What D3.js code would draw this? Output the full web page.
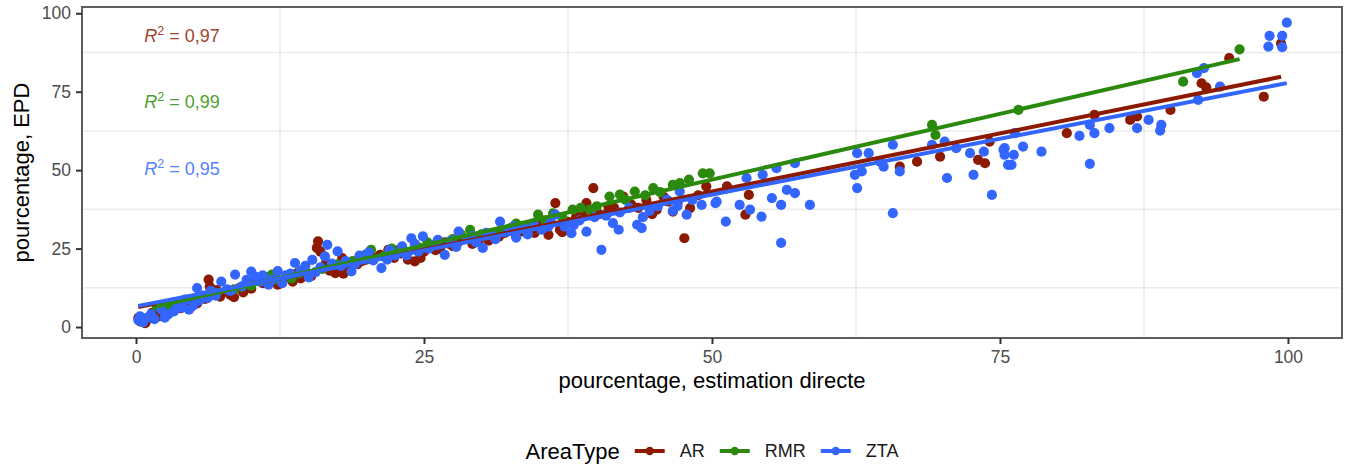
<!DOCTYPE html>
<html lang="fr">
<head>
<meta charset="utf-8">
<title>EPD vs estimation directe</title>
<script src="https://cdn.jsdelivr.net/npm/d3@7"></script>
<style>
  body { margin: 0; background: #fff; }
  svg { display: block; font-family: "Liberation Sans", Arial, Helvetica, sans-serif; }
</style>
</head>
<body>
<svg id="chart" width="1346" height="468"></svg>
<script>
// values: [estimation directe, EPD]
var areaTypes = ["AR", "RMR", "ZTA"];

var arPoints = [
  [0.2,2.9],[0.35,1.8],[0.8,1.2],[1.0,2.5],[1.4,4.5],[2.0,3.5],[2.3,4.2],[2.6,5.0],[3.0,5.5],[3.4,6.6],
  [3.9,6.0],[4.5,7.2],[4.8,6.5],[5.0,8.0],[5.3,7.5],[5.6,9.5],[6.0,9.0],[6.3,15.1],[6.4,12.9],[6.8,10.5],
  [7.0,11.8],[7.3,9.7],[7.8,11.2],[8.2,10.2],[8.5,9.5],[9.0,12.5],[9.3,11.0],[9.6,13.5],[10.0,12.2],[10.4,14.8],
  [11.0,14.0],[11.2,15.5],[12.0,16.0],[12.3,13.5],[12.6,14.0],[13.2,15.8],[13.6,14.5],[14.0,17.2],[14.3,15.5],[14.6,18.0],
  [15.2,16.2],[15.7,25.2],[15.8,27.3],[16.0,24.0],[16.5,20.5],[16.8,18.0],[17.3,17.2],[17.9,22.0],[18.0,17.0],[18.5,19.5],
  [19.2,20.0],[19.6,21.0],[20.0,21.5],[20.6,22.2],[21.2,23.0],[21.9,24.6],[22.4,22.0],[22.8,24.5],[23.0,23.5],[23.6,21.5],
  [24.2,20.9],[24.7,22.0],[25.0,24.0],[25.4,26.2],[26.0,24.5],[26.4,25.0],[26.8,27.0],[27.2,26.5],[27.5,25.8],[28.0,27.2],
  [28.4,28.0],[29.2,26.5],[29.8,28.0],[30.0,28.8],[30.6,27.5],[31.0,29.5],[31.5,28.8],[32.0,30.0],[33.0,29.0],[33.5,30.5],
  [34.0,31.5],[34.6,30.0],[35.0,32.5],[35.8,29.4],[36.4,39.5],[36.8,31.0],[37.0,30.2],[37.5,33.5],[38.2,35.0],[38.8,36.5],
  [39.1,39.5],[39.7,44.3],[40.2,36.0],[40.9,36.3],[41.0,38.5],[41.5,38.0],[42.3,41.6],[43.0,39.0],[43.6,38.0],[44.3,40.5],
  [44.8,36.0],[45.2,37.4],[45.8,41.5],[46.2,40.0],[46.6,36.8],[47.0,39.5],[47.6,28.3],[48.1,37.9],[48.8,42.0],[49.5,44.8],
  [51.3,44.8],[52.9,35.8],[53.2,42.1],[66.3,51.1],[67.8,52.7],[69.8,54.3],[73.1,53.3],[73.7,52.2],[74.1,59.1],[80.8,61.8],
  [83.2,67.6],[86.3,66.0],[86.9,67.1],[89.8,69.2],[92.5,77.7],[92.9,76.4],[94.9,85.7],[97.9,73.4],[99.4,90.4]
];

var rmrPoints = [
  [1.8,6.6],[2.5,6.0],[3.0,7.5],[4.2,8.6],[5.5,9.2],[6.2,10.2],[7.0,10.8],[8.5,12.0],[9.2,12.8],[10.0,13.2],
  [11.5,16.0],[11.8,16.7],[12.2,15.2],[13.5,15.5],[14.2,17.2],[15.0,17.0],[16.2,18.5],[17.5,20.0],[18.8,21.0],[19.9,23.0],
  [20.4,24.6],[21.5,22.5],[22.2,25.0],[23.0,24.0],[24.5,25.5],[25.3,27.0],[26.0,26.5],[27.5,28.0],[28.2,29.5],[29.0,31.0],
  [30.0,29.5],[31.5,30.5],[32.5,31.5],[33.0,33.0],[33.9,31.5],[34.9,35.8],[35.5,34.0],[36.2,36.2],[37.0,35.0],[37.9,37.4],
  [38.6,38.0],[39.4,37.4],[40.0,38.5],[41.1,41.6],[42.0,42.2],[42.5,40.5],[43.3,43.2],[44.2,42.0],[44.9,44.3],[45.5,43.0],
  [46.6,45.3],[47.2,45.9],[48.0,47.0],[49.2,49.0],[49.8,49.0],[69.1,64.4],[69.4,61.2],[76.6,69.2],[90.9,78.2],[95.8,88.5]
];

var ztaPoints = [
  [0.2,2.2],[0.35,3.4],[0.6,1.5],[1.0,3.0],[1.3,4.0],[1.6,2.5],[2.2,5.5],[2.5,3.0],[2.8,4.0],[3.3,5.0],
  [3.6,6.5],[4.0,6.2],[4.3,8.7],[4.6,5.5],[5.0,7.0],[5.3,12.4],[5.5,8.5],[5.8,10.0],[6.2,9.2],[6.5,11.5],
  [6.9,10.0],[7.4,14.5],[7.9,12.0],[8.2,11.5],[8.6,16.7],[9.2,13.0],[9.6,15.0],[10.0,17.7],[10.4,16.0],[10.8,14.5],
  [11.0,16.5],[11.5,13.5],[11.8,15.0],[12.3,17.8],[12.7,14.0],[13.0,16.5],[13.4,17.0],[13.8,20.4],[14.3,18.0],[14.7,19.5],
  [15.0,15.8],[15.3,21.4],[15.6,17.5],[16.0,19.0],[16.4,22.5],[16.6,26.2],[17.0,20.2],[17.5,24.1],[17.8,19.5],[18.2,21.0],
  [18.7,17.7],[19.0,20.0],[19.4,22.8],[20.2,23.8],[20.6,21.2],[21.3,18.8],[21.8,21.5],[22.0,24.5],[22.5,22.8],[23.1,25.7],
  [23.5,22.8],[23.9,28.3],[24.2,26.5],[24.5,24.0],[24.9,28.9],[25.4,25.0],[25.8,26.0],[26.2,27.8],[26.8,23.0],[27.3,27.5],
  [27.8,25.5],[28.0,30.4],[28.8,28.0],[29.2,29.0],[29.5,27.0],[30.1,25.2],[30.4,30.0],[30.8,29.5],[31.2,28.0],[31.6,33.6],
  [32.3,30.5],[32.8,32.2],[33.0,28.5],[33.6,32.0],[34.0,29.5],[34.5,33.0],[35.2,31.0],[35.8,32.0],[36.0,33.5],[36.4,35.8],
  [37.2,32.0],[37.8,29.9],[38.0,32.5],[38.5,34.0],[39.1,30.4],[39.8,35.0],[40.4,24.6],[40.8,35.5],[41.4,33.1],[41.9,31.0],
  [42.0,36.5],[42.8,38.0],[43.5,32.6],[43.9,31.5],[44.0,35.0],[44.6,37.0],[45.3,38.5],[46.1,40.5],[46.6,37.0],[47.0,38.5],
  [47.2,43.2],[47.8,35.8],[48.3,40.5],[49.1,38.9],[50.3,39.5],[50.4,40.0],[51.2,33.6],[52.4,38.9],[53.0,47.5],[53.3,37.4],
  [54.3,35.2],[54.4,48.5],[55.2,41.1],[55.6,50.6],[56.0,26.8],[56.0,38.9],[56.5,43.7],[57.2,42.7],[57.2,52.2],[58.5,38.9],
  [62.4,48.5],[62.6,55.4],[62.6,44.3],[63.0,49.6],[63.6,55.4],[64.6,52.7],[64.9,51.1],[65.7,58.1],[65.7,36.3],[66.3,49.6],
  [69.1,58.1],[70.2,59.1],[70.4,47.5],[71.2,57.0],[72.4,55.4],[72.7,48.5],[73.6,55.9],[74.3,42.1],[75.3,56.5],[75.7,51.7],
  [75.4,57.0],[75.4,54.9],[76.2,54.9],[76.0,51.7],[77.0,57.5],[76.3,61.8],[78.6,55.9],[81.9,60.9],[82.8,52.0],[82.8,64.4],
  [83.2,61.8],[84.5,63.4],[86.9,63.4],[87.9,66.0],[89.0,64.4],[88.9,62.6],[92.2,72.4],[92.1,80.9],[92.7,82.5],[94.1,76.6],
  [98.4,92.8],[98.3,89.4],[99.5,92.8],[99.5,89.2],[99.9,97.0]
];

// fitted lines as seen in the picture (lm per AreaType)
var fitIntercepts = [6.2, 5.1, 6.6];
var fitSlopes = [0.74, 0.838, 0.712];
var r2Values = ["0,97", "0,99", "0,95"];
var r2LabelX = [4, 4, 4];
var r2LabelY = [93, 71.8, 50.6];

var xTicks = [0, 25, 50, 75, 100];
var yTicks = [0, 25, 50, 75, 100];
var minorTicks = [12.5, 37.5, 62.5, 87.5];

var colors = ["#8B1A00", "#2B8A0E", "#3366FF"];
var labelColors = ["#A0442A", "#4E9F30", "#5580FF"];

var series = [arPoints, rmrPoints, ztaPoints];

var svg = d3.select("#chart");
var panel = { left: 82, right: 1342, top: 7, bottom: 338 };

var x = d3.scaleLinear().domain([-4.69, 104.69]).range([panel.left, panel.right]);
var y = d3.scaleLinear().domain([-3.5, 102]).range([panel.bottom, panel.top]);

svg.append("rect").attr("width", 1346).attr("height", 468).attr("fill", "#fff");

// minor grid only (major grid is not visible in the original)
var grid = svg.append("g");
grid.selectAll("line.vx").data(minorTicks).enter().append("line")
  .attr("x1", function(d) { return x(d); }).attr("x2", function(d) { return x(d); })
  .attr("y1", panel.top).attr("y2", panel.bottom)
  .attr("stroke", "#EBEBEB").attr("stroke-width", 1.5);
grid.selectAll("line.hy").data(minorTicks).enter().append("line")
  .attr("y1", function(d) { return y(d); }).attr("y2", function(d) { return y(d); })
  .attr("x1", panel.left).attr("x2", panel.right)
  .attr("stroke", "#EBEBEB").attr("stroke-width", 1.5);

// points
var pts = svg.append("g");
series.forEach(function(s, i) {
  pts.append("g").selectAll("circle").data(s).enter().append("circle")
    .attr("cx", function(d) { return x(d[0]); })
    .attr("cy", function(d) { return y(d[1]); })
    .attr("r", 5.1)
    .attr("fill", colors[i]);
});

// regression lines over each group's x range
var line = d3.line().x(function(d) { return x(d[0]); }).y(function(d) { return y(d[1]); });
series.forEach(function(s, i) {
  var ext = d3.extent(s, function(d) { return d[0]; });
  var seg = ext.map(function(v) { return [v, fitIntercepts[i] + fitSlopes[i] * v]; });
  svg.append("path").datum(seg)
    .attr("d", line)
    .attr("fill", "none")
    .attr("stroke", colors[i])
    .attr("stroke-width", 4);
});

// R2 annotations
var ann = svg.append("g").attr("font-size", 18);
r2Values.forEach(function(v, i) {
  var t = ann.append("text")
    .attr("x", x(r2LabelX[i]))
    .attr("y", y(r2LabelY[i]))
    .attr("dy", "0.36em")
    .attr("text-anchor", "middle")
    .attr("fill", labelColors[i]);
  t.append("tspan").attr("font-style", "italic").text("R");
  t.append("tspan").attr("font-size", 12.5).attr("dy", "-0.55em").text("2");
  t.append("tspan").attr("dy", "0.38em").text(" = " + v);
});

// panel border
svg.append("rect")
  .attr("x", panel.left).attr("y", panel.top)
  .attr("width", panel.right - panel.left).attr("height", panel.bottom - panel.top)
  .attr("fill", "none").attr("stroke", "#5e5e5e").attr("stroke-width", 2);

// axes
var xAxis = svg.append("g").attr("transform", "translate(0," + panel.bottom + ")")
  .call(d3.axisBottom(x).tickValues(xTicks).tickSize(6).tickPadding(7));
var yAxis = svg.append("g").attr("transform", "translate(" + panel.left + ",0)")
  .call(d3.axisLeft(y).tickValues(yTicks).tickSize(6).tickPadding(5));
[xAxis, yAxis].forEach(function(a) {
  a.select(".domain").remove();
  a.selectAll(".tick line").attr("stroke", "#333").attr("stroke-width", 2);
  a.selectAll(".tick text").attr("fill", "#4D4D4D").attr("font-size", 17.5)
    .attr("font-family", "Liberation Sans, Arial, sans-serif");
});

// axis titles
svg.append("text")
  .attr("x", (panel.left + panel.right) / 2).attr("y", 388)
  .attr("text-anchor", "middle").attr("font-size", 22).attr("fill", "#000")
  .text("pourcentage, estimation directe");
svg.append("text")
  .attr("transform", "translate(29," + (panel.top + panel.bottom) / 2 + ") rotate(-90)")
  .attr("text-anchor", "middle").attr("font-size", 22).attr("fill", "#000")
  .text("pourcentage, EPD");

// legend, centred under the panel
var legend = svg.append("g").attr("transform", "translate(0,451)");
var title = legend.append("text").attr("font-size", 22).attr("dy", "0.35em").text("AreaType");
var cursor = title.node().getComputedTextLength() + 15;
areaTypes.forEach(function(name, i) {
  var g = legend.append("g");
  g.append("line").attr("x1", 0).attr("x2", 30).attr("stroke", colors[i]).attr("stroke-width", 4);
  g.append("circle").attr("cx", 15).attr("r", 4.2).attr("fill", colors[i]);
  var lab = g.append("text").attr("x", 45).attr("dy", "0.35em").attr("font-size", 18).attr("fill", "#1a1a1a").text(name);
  g.attr("transform", "translate(" + cursor + ",0)");
  cursor += 45 + lab.node().getComputedTextLength() + 15;
});
var total = cursor - 15;
var start = (panel.left + panel.right) / 2 - total / 2;
legend.attr("transform", "translate(" + start + ",451)");
</script>
</body>
</html>
